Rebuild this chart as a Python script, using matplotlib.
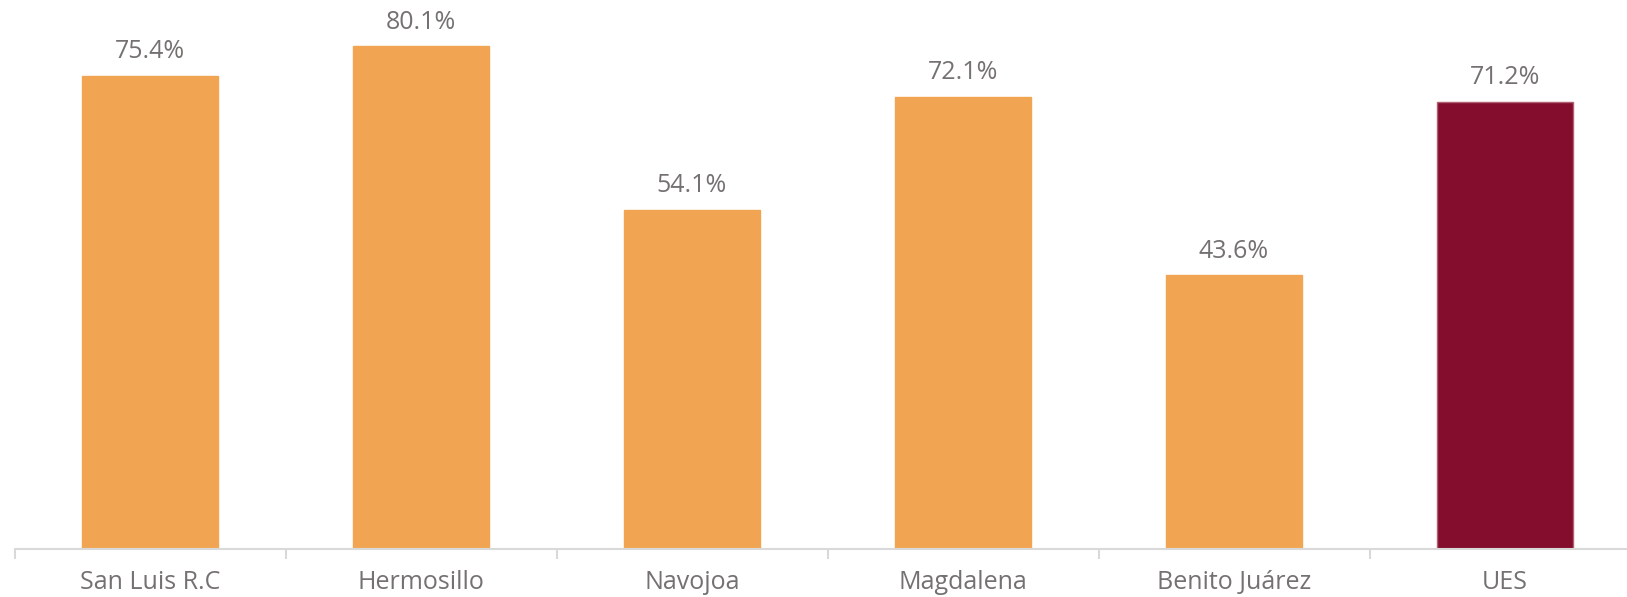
import matplotlib.pyplot as plt

categories = ["San Luis R.C", "Hermosillo", "Navojoa", "Magdalena", "Benito Juárez", "UES"]
values = [75.4, 80.1, 54.1, 72.1, 43.6, 71.2]
labels = ["75.4%", "80.1%", "54.1%", "72.1%", "43.6%", "71.2%"]

orange = "#F1A553"
maroon = "#840D2E"
grey_text = "#757171"

plt.rcParams['font.family'] = ['Open Sans', 'DejaVu Sans']

fig = plt.figure(figsize=(16.27, 5.97), dpi=100)
ax = fig.add_axes([14.5 / 1627, 48 / 597, 1 - 14.5 / 1627, 1 - 48 / 597])

colors = [orange] * (len(categories) - 1) + [maroon]
edges = [orange] * (len(categories) - 1) + ["#B06070"]
x = list(range(len(categories)))
ax.bar(x, values, width=0.5, color=colors, edgecolor=edges, linewidth=1)

for xi, v, lab in zip(x, values, labels):
    ax.annotate(lab, (xi, v), xytext=(0, 17.5), textcoords="offset points",
                ha="center", va="center", fontsize=18, color=grey_text)

for s in ["top", "right", "left"]:
    ax.spines[s].set_visible(False)
ax.spines["bottom"].set_color("#D9D9D9")
ax.spines["bottom"].set_linewidth(1.5)

ax.set_yticks([])
ax.set_xticks(x)
ax.set_xticklabels(categories, fontsize=18, color=grey_text)
ax.tick_params(axis="x", length=0, pad=15)
ax.set_xticks([i - 0.5 for i in range(len(categories) + 1)], minor=True)
ax.tick_params(axis="x", which="minor", length=7, width=1.5, color="#D9D9D9")

# limits last, set_xticks would widen them otherwise
ax.set_xlim(-0.5, -0.5 + (1627 - 14.5) / 271)
ax.set_ylim(0, 549 / 6.275)

fig.savefig("out.png", dpi=100)
